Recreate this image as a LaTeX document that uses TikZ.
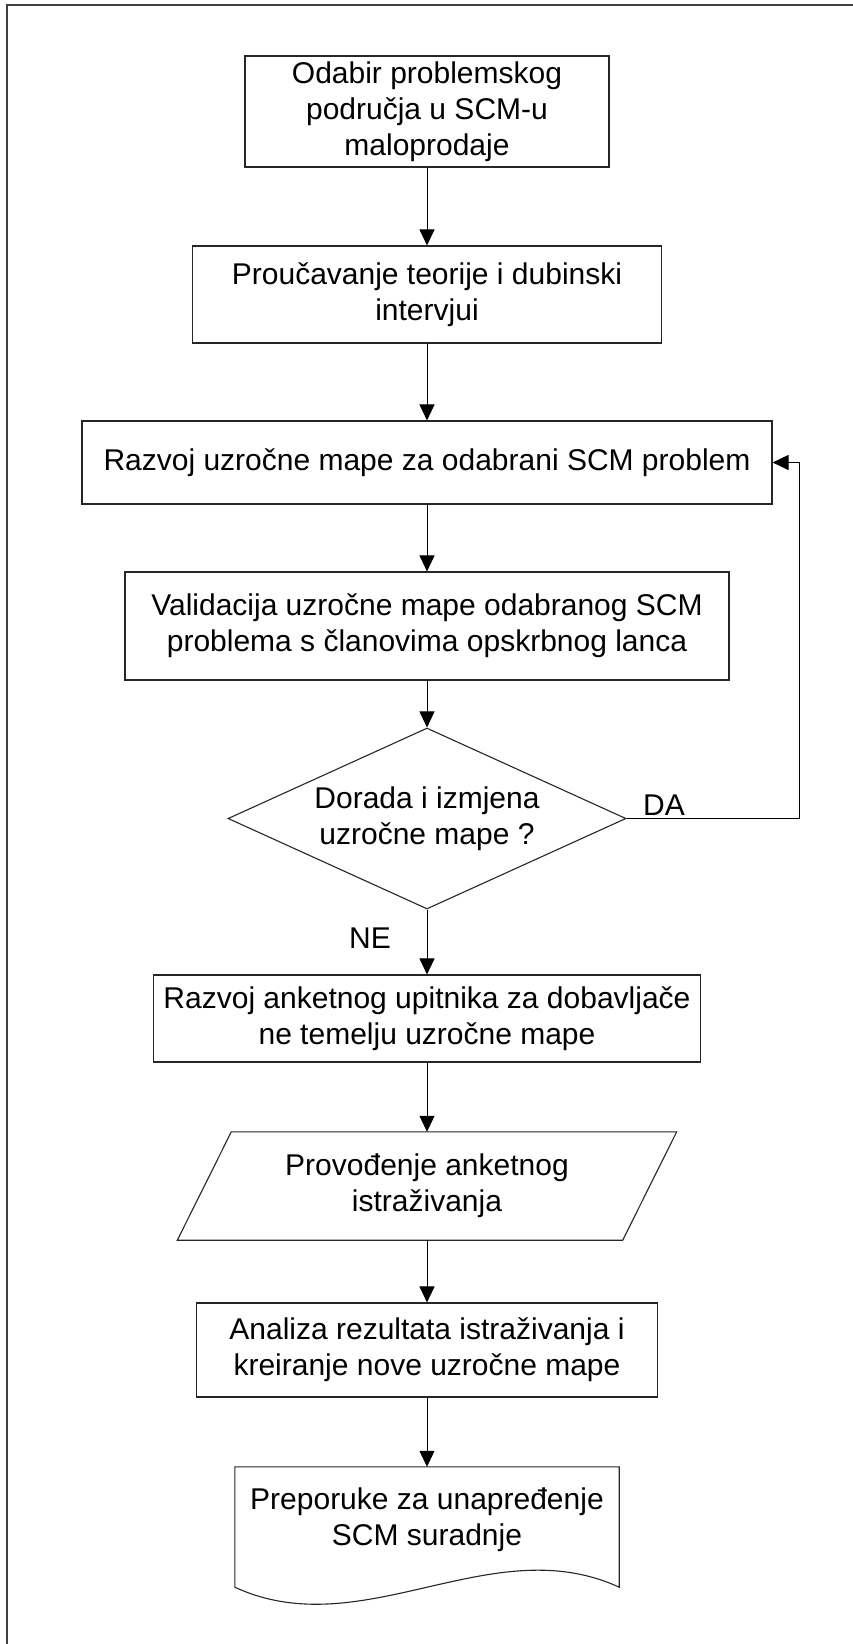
\documentclass[tikz,border=0pt]{standalone}
\usepackage{fontspec}
\setmainfont{Liberation Sans}
\usetikzlibrary{arrows.meta,shapes.geometric,calc}
\begin{document}
\begin{tikzpicture}[x=1pt,y=-1pt,
  every node/.style={font=\fontsize{30}{36}\selectfont, align=center, inner sep=0pt},
  shapeline/.style={draw=black!85, line width=1.1pt},
  procbox/.style={rectangle, shapeline},
  flow/.style={-{Triangle[length=16pt,width=15pt]}, line width=1pt, draw=black},
  framestyle/.style={draw=black!75, line width=2pt},
  lbl/.style={anchor=base west}
]
\fill[white] (0,0) rectangle (853,1644);
\useasboundingbox (0,0) rectangle (853,1644);
\draw[framestyle] (7,1644) -- (7,5) -- (853,5);

\node[procbox, minimum width=364pt, minimum height=111pt] (b1) at (427,111.5)
  {Odabir problemskog\\područja u SCM-u\\maloprodaje};
\node[procbox, minimum width=469pt, minimum height=97pt] (b2) at (427,294.5)
  {Proučavanje teorije i dubinski\\intervjui};
\node[procbox, minimum width=690pt, minimum height=83pt] (b3) at (427,462.5)
  {Razvoj uzročne mape za odabrani SCM problem};
\node[procbox, minimum width=604pt, minimum height=108pt] (b4) at (427,626)
  {Validacija uzročne mape odabranog SCM\\problema s članovima opskrbnog lanca};
\node[diamond, shapeline, aspect=2.2, minimum width=398pt, minimum height=181pt] (dec) at (427,818.5)
  {Dorada i izmjena\\uzročne mape ?};
\node[procbox, minimum width=547pt, minimum height=87pt] (b5) at (427,1018.5)
  {Razvoj anketnog upitnika za dobavljače\\ne temelju uzročne mape};
\node[minimum width=445pt, minimum height=108pt] (par) at (427,1186)
  {Provođenje anketnog\\istraživanja};
\draw[shapeline] ($(par.north west)+(27,0)$) -- ($(par.north east)+(27,0)$)
  -- ($(par.south east)+(-27,0)$) -- ($(par.south west)+(-27,0)$) -- cycle;
\node[procbox, minimum width=461pt, minimum height=94pt] (b6) at (427,1350)
  {Analiza rezultata istraživanja i\\kreiranje nove uzročne mape};
\node[minimum width=384pt, minimum height=120pt] (doc) at (427,1527) {};
\draw[shapeline] (doc.south west) -- (doc.north west) -- (doc.north east) -- (doc.south east)
  .. controls ($(doc.south east)+(-128,-59)$) and ($(doc.south west)+(128,59)$) .. (doc.south west) -- cycle;
\node (doctext) at ($(doc.center)+(0,-7)$) {Preporuke za unapređenje\\SCM suradnje};

\coordinate (fb) at (799,818.5);
\draw[flow] (b1.south) -- (b2.north);
\draw[flow] (b2.south) -- (b3.north);
\draw[flow] (b3.south) -- (b4.north);
\draw[flow] (b4.south) -- (dec.north);
\draw[flow] (dec.south) -- (b5.north);
\draw[flow] (b5.south) -- (par.north);
\draw[flow] (par.south) -- (b6.north);
\draw[flow] (b6.south) -- (doc.north);
\draw[flow] (dec.east) -- (fb) |- (b3.east);

\node[lbl] (da) at (643,815) {DA};
\node[lbl] (ne) at (349,948) {NE};
\end{tikzpicture}
\end{document}
